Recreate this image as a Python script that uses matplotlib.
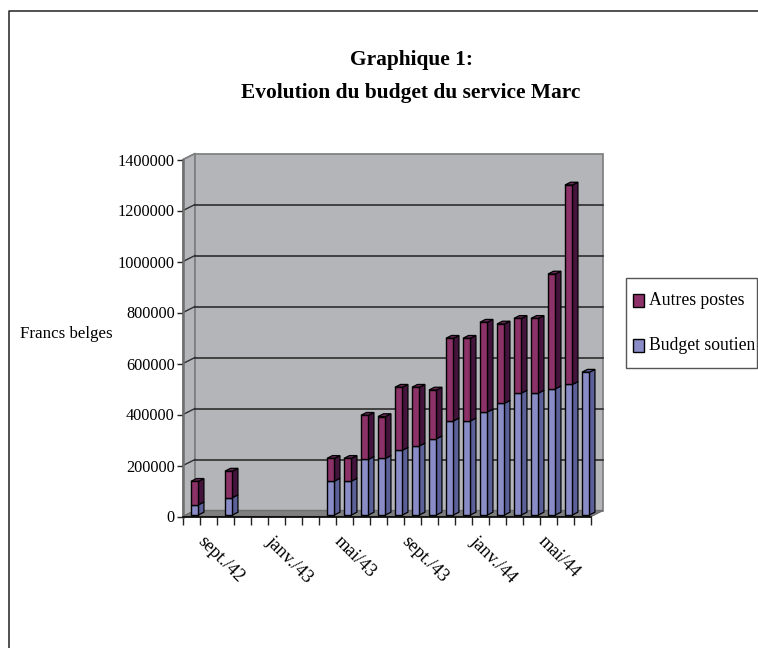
import matplotlib
matplotlib.use('Agg')
import matplotlib.pyplot as plt
from matplotlib.patches import Polygon, Rectangle
from matplotlib.transforms import Affine2D

# Values, one per month from sept. 42 to aug. 44
budgetSoutien = [40000, 0, 68000, 0, 0, 0, 0, 0, 133000, 133000, 218000, 222000,
		254000, 271000, 299000, 369000, 369000, 404000, 438000, 478000, 478000,
		495000, 512000, 560000]
autresPostes = [92000, 0, 104000, 0, 0, 0, 0, 0, 89000, 89000, 173000, 164000,
		247000, 230000, 191000, 324000, 324000, 352000, 311000, 293000, 293000,
		450000, 782000, 0]
monthLabels = ['sept./42', '', '', '', 'janv./43', '', '', '', 'mai/43', '', '', '',
		'sept./43', '', '', '', 'janv./44', '', '', '', 'mai/44', '', '', '']
yTicks = [0, 200000, 400000, 600000, 800000, 1000000, 1200000, 1400000]

W, H = 758, 648
plt.rcParams['font.family'] = ['Liberation Serif', 'DejaVu Serif']

fig = plt.figure(figsize=(W / 100, H / 100), dpi=100)

# the border of the chart area is only seen on the top and the left
fig.add_artist(plt.Line2D([8.5 / W, 8.5 / W, 1], [0, 1 - 11 / H, 1 - 11 / H],
		color='#222222', linewidth=1.1))

left, right, top, bottom = 183, 591, 159.5, 516.5
ax = fig.add_axes([left / W, 1 - bottom / H, (right - left) / W, (bottom - top) / H])
ax.set_xlim(0, 24)
ax.set_ylim(0, 1400000)
ax.patch.set_visible(False)
for side in ['top', 'right']:
	ax.spines[side].set_visible(False)
ax.spines['left'].set_color('#6e6e6e')
ax.spines['left'].set_linewidth(1.8)
ax.spines['bottom'].set_color('black')
ax.spines['bottom'].set_linewidth(1.2)

depthX, depthY = 12, 6
wallColor = '#b4b5b9'
wallEdge = '#7c7c7c'
gridColor = '#2e2e2e'

def toPx(x, y):
	return ax.transData.transform((x, y))

def poly(points, face, edge='black', lw=1.0, z=2):
	ax.add_patch(Polygon(points, closed=True, transform=None, facecolor=face,
			edgecolor=edge, linewidth=lw, zorder=z, clip_on=False))

# walls and floor, built from the axis corners in pixels
x0, y0 = toPx(0, 0)
x1, y1 = toPx(24, 1400000)
poly([(x0, y0), (x0 + depthX, y0 + depthY), (x0 + depthX, y1 + depthY), (x0, y1)],
		wallColor, wallEdge, 1.0, 0.5)
poly([(x0 + depthX, y0 + depthY), (x1 + depthX, y0 + depthY), (x1 + depthX, y1 + depthY),
		(x0 + depthX, y1 + depthY)], wallColor, wallEdge, 1.2, 0.6)
poly([(x0, y0), (x1, y0), (x1 + depthX, y0 + depthY), (x0 + depthX, y0 + depthY)],
		'#7f7f7f', '#6e6e6e', 1.0, 0.7)

for val in yTicks[1:]:
	px, py = toPx(0, val)
	if val < 1400000:
		ax.plot([px + depthX, x1 + depthX], [py + depthY, py + depthY], transform=None,
				color=gridColor, lw=1.2, zorder=0.8, clip_on=False)
	ax.plot([px, px + depthX], [py, py + depthY], transform=None,
			color=gridColor if val < 1400000 else wallEdge, lw=1.0, zorder=0.8, clip_on=False)

# 3D look for the bars: front from ax.bar, side and top as polygons
barShiftX, barShiftY = 3.2, 1.5
barDepthX, barDepthY = 5.5, 2.8
barWidth = 0.44
shift = ax.transData + Affine2D().translate(barShiftX, barShiftY)
xPos = [i + 0.5 for i in range(len(budgetSoutien))]

blueFront, blueSide = '#8a8cc8', '#5c6098'
plumFront, plumSide, plumTop = '#8c3268', '#45143c', '#6a2a58'

# months without data get no bar at all
filled = [i for i in range(len(xPos)) if budgetSoutien[i] + autresPostes[i] > 0]
plummed = [i for i in filled if autresPostes[i] > 0]
ax.bar([xPos[i] for i in filled], [budgetSoutien[i] for i in filled], barWidth, transform=shift,
		color=blueFront, edgecolor='black', linewidth=1.0, zorder=3, clip_on=False)
ax.bar([xPos[i] for i in plummed], [autresPostes[i] for i in plummed], barWidth,
		bottom=[budgetSoutien[i] for i in plummed], transform=shift, color=plumFront,
		edgecolor='black', linewidth=1.0, zorder=3, clip_on=False)

for i in filled:
	x = xPos[i]
	low, mid = budgetSoutien[i], budgetSoutien[i] + autresPostes[i]
	for a, b, col in [(0, low, blueSide), (low, mid, plumSide)]:
		if b == a:
			continue
		xa, ya = toPx(x + barWidth / 2, a)
		yb = toPx(x, b)[1]
		xa += barShiftX
		ya += barShiftY
		yb += barShiftY
		poly([(xa, ya), (xa + barDepthX, ya + barDepthY), (xa + barDepthX, yb + barDepthY),
				(xa, yb)], col, 'black', 0.9, 2.5)
	xl = toPx(x - barWidth / 2, mid)[0] + barShiftX
	xr = toPx(x + barWidth / 2, mid)[0] + barShiftX
	yt = toPx(x, mid)[1] + barShiftY
	poly([(xl, yt), (xr, yt), (xr + barDepthX, yt + barDepthY), (xl + barDepthX, yt + barDepthY)],
			plumTop if autresPostes[i] else blueSide, 'black', 0.9, 2.5)

ax.set_xticks(range(25))
ax.set_xticklabels([])
ax.set_xticks(xPos, monthLabels, minor=True)
ax.tick_params(axis='x', which='major', length=5.5, width=1.0, color='#222222')
ax.tick_params(axis='x', which='minor', length=0, pad=12, labelsize=13.2)
labelShift = Affine2D().translate(15, 0)
for lab in ax.get_xticklabels(minor=True):
	lab.set_rotation(-45)
	lab.set_ha('left')
	lab.set_va('top')
	lab.set_rotation_mode('anchor')
	lab.set_transform(lab.get_transform() + labelShift)

ax.set_yticks(yTicks)
ax.set_yticklabels([str(v) for v in yTicks])
ax.tick_params(axis='y', length=4.5, width=1.0, pad=1.5, labelsize=11.7, color='#222222')

fig.text(411 / W, 1 - 60 / H, 'Graphique 1:', ha='center', va='center', fontsize=15.4,
		fontweight='bold')
fig.text(411 / W, 1 - 93 / H, 'Evolution du budget du service Marc', ha='center', va='center',
		fontsize=15.4, fontweight='bold')
fig.text(20 / W, 1 - 334 / H, 'Francs belges', ha='left', va='center', fontsize=12.2)

# legend box
fig.add_artist(Rectangle((625.5 / W, 1 - 368 / H), 131.5 / W, 90 / H, transform=fig.transFigure,
		facecolor='white', edgecolor='#555555', linewidth=1.0))
legendNames = ['Autres postes', 'Budget soutien']
legendColors = [plumFront, blueFront]
legendY = [301, 345]
for name, col, ly in zip(legendNames, legendColors, legendY):
	fig.add_artist(Rectangle((632.5 / W, 1 - (ly + 6.5) / H), 11 / W, 13 / H,
			transform=fig.transFigure, facecolor=col, edgecolor='black', linewidth=1.0))
	fig.text(649 / W, 1 - ly / H, name, ha='left', va='center', fontsize=12.7)

fig.savefig('out.png', dpi=100)
